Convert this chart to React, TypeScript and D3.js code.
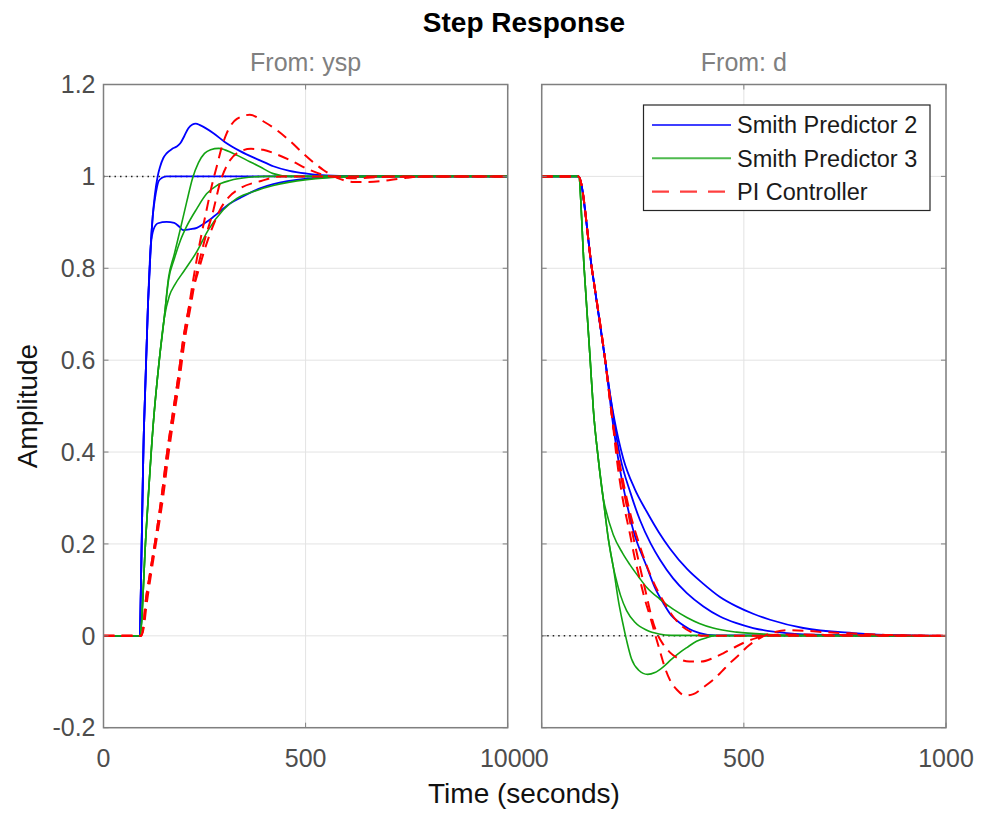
import React from "react";
import * as d3 from "d3";

type Pt = [number, number];

// ---- axes / labels ----
const xTicks = [0, 500, 1000];
const yTicks = [-0.2, 0, 0.2, 0.4, 0.6, 0.8, 1, 1.2];
const yTickLabels = ["-0.2", "0", "0.2", "0.4", "0.6", "0.8", "1", "1.2"];
const panelTitles = ["From: ysp", "From: d"];
const seriesNames = ["Smith Predictor 2", "Smith Predictor 3", "PI Controller"];

// ---- From: ysp (left panel) ----
const sp2YspA: Pt[] = [[0,0],[88,0],[100,0.45],[110,0.72],[117,0.85],[122,0.915],[127,0.96],[134,1.0],[140,1.021],[148,1.04],[156,1.05],[170,1.06],[181,1.065],[190,1.072],[200,1.088],[210,1.105],[220,1.113],[228,1.115],[240,1.111],[272,1.094],[300,1.075],[338,1.055],[387,1.035],[420,1.022],[460,1.012],[503,1.006],[550,1.002],[650,1.0],[1000,1.0]];
const sp2YspB: Pt[] = [[0,0],[88,0],[100,0.45],[110,0.72],[117,0.85],[122,0.915],[127,0.95],[132,0.975],[136,0.989],[145,0.997],[156,1.0],[1000,1.0]];
const sp2YspC: Pt[] = [[0,0],[88,0],[100,0.45],[110,0.72],[117,0.85],[124,0.885],[135,0.898],[156,0.901],[175,0.899],[188,0.89],[197,0.883],[215,0.885],[231,0.888],[250,0.898],[272,0.912],[313,0.941],[338,0.953],[387,0.974],[420,0.983],[503,0.995],[585,0.999],[700,1.0],[1000,1.0]];

const sp3YspA: Pt[] = [[0,0],[90,0],[105,0.22],[123,0.46],[138,0.6],[150,0.69],[161,0.78],[175,0.83],[190,0.885],[206,0.945],[220,0.995],[235,1.03],[250,1.05],[265,1.058],[285,1.061],[321,1.05],[362,1.032],[387,1.021],[420,1.006],[460,1.0],[1000,1.0]];
const sp3YspB: Pt[] = [[0,0],[90,0],[105,0.22],[123,0.46],[138,0.6],[150,0.69],[161,0.775],[175,0.82],[190,0.86],[205,0.89],[231,0.93],[255,0.962],[280,0.98],[313,0.991],[360,0.998],[400,1.0],[1000,1.0]];
const sp3YspC: Pt[] = [[0,0],[90,0],[105,0.22],[123,0.46],[138,0.6],[150,0.69],[163,0.74],[177,0.765],[200,0.795],[230,0.835],[259,0.883],[296,0.927],[330,0.952],[381,0.97],[420,0.98],[503,0.993],[600,0.999],[700,1.0],[1000,1.0]];

const piYspA: Pt[] = [[0,0],[93,0],[98.5,0.02],[103,0.064],[115,0.136],[132,0.23],[144,0.305],[156,0.39],[169,0.47],[185,0.564],[197,0.644],[210,0.709],[222,0.775],[235,0.84],[255,0.927],[268,0.98],[280,1.021],[293,1.065],[305,1.094],[330,1.125],[362,1.134],[395,1.12],[428,1.101],[460,1.078],[494,1.05],[520,1.03],[544,1.014],[570,1.0],[593,0.992],[620,0.988],[651,0.988],[709,0.992],[750,0.997],[790,1.0],[1000,1.0]];
const piYspB: Pt[] = [[0,0],[93,0],[100,0.02],[106,0.064],[118,0.136],[135,0.23],[148,0.305],[160,0.39],[173,0.47],[189,0.564],[201,0.644],[214,0.709],[227,0.775],[246,0.847],[272,0.927],[288,0.985],[313,1.035],[340,1.055],[365,1.06],[395,1.058],[428,1.048],[460,1.036],[510,1.014],[560,1.0],[620,0.996],[700,0.999],[1000,1.0]];
const piYspC: Pt[] = [[0,0],[93,0],[98.5,0.02],[103,0.064],[115,0.136],[132,0.23],[144,0.305],[156,0.39],[169,0.47],[185,0.564],[197,0.644],[210,0.709],[222,0.755],[235,0.795],[250,0.84],[270,0.89],[290,0.93],[310,0.955],[340,0.975],[390,0.99],[440,1.0],[1000,1.0]];

// ---- From: d (right panel) ----
const sp2DA: Pt[] = [[0,1],[91,1],[124,0.8],[157,0.6],[170,0.52],[180,0.47],[202,0.385],[230,0.32],[260,0.27],[290,0.225],[317,0.19],[360,0.145],[400,0.113],[440,0.085],[482,0.064],[523,0.048],[565,0.035],[647,0.017],[771,0.006],[900,0.001],[1000,0]];
const sp2DB: Pt[] = [[0,1],[91,1],[124,0.8],[157,0.6],[170,0.52],[180,0.46],[194,0.39],[220,0.31],[243,0.252],[270,0.2],[293,0.165],[325,0.125],[359,0.093],[400,0.064],[441,0.042],[480,0.028],[523,0.017],[606,0.006],[700,0.002],[1000,0]];
const sp2DC: Pt[] = [[0,1],[91,1],[124,0.8],[157,0.6],[175,0.47],[194,0.36],[210,0.29],[227,0.228],[260,0.15],[280,0.105],[301,0.071],[320,0.045],[342,0.028],[365,0.015],[391,0.006],[430,0.001],[1000,0]];

const sp3DA: Pt[] = [[0,1],[91,1],[105,0.8],[120,0.6],[128,0.49],[140,0.385],[152,0.3],[165,0.21],[177,0.15],[190,0.075],[200,0.03],[210,-0.01],[222,-0.05],[240,-0.075],[262,-0.084],[280,-0.08],[300,-0.068],[320,-0.052],[342,-0.036],[360,-0.025],[383,-0.012],[408,-0.004],[430,0],[1000,0]];
const sp3DB: Pt[] = [[0,1],[91,1],[105,0.8],[120,0.6],[128,0.49],[140,0.385],[152,0.3],[165,0.21],[177,0.15],[185,0.12],[195,0.088],[210,0.055],[230,0.03],[260,0.012],[290,0.004],[320,0.001],[1000,0]];
const sp3DC: Pt[] = [[0,1],[91,1],[105,0.8],[120,0.6],[128,0.49],[140,0.385],[152,0.3],[157,0.28],[177,0.22],[200,0.18],[218,0.155],[240,0.128],[260,0.105],[292,0.08],[325,0.058],[359,0.04],[390,0.027],[424,0.017],[482,0.008],[565,0.003],[650,0.001],[1000,0]];

const piDA: Pt[] = [[0,1],[91,1],[124,0.8],[157,0.6],[175,0.47],[185,0.39],[200,0.3],[218,0.223],[230,0.17],[243,0.122],[255,0.08],[268,0.042],[280,0.005],[293,-0.035],[305,-0.07],[317,-0.096],[335,-0.118],[355,-0.13],[375,-0.127],[400,-0.112],[424,-0.096],[445,-0.078],[466,-0.059],[490,-0.04],[507,-0.025],[530,-0.01],[556,0.002],[580,0.009],[606,0.012],[650,0.011],[700,0.008],[771,0.005],[850,0.002],[1000,0]];
const piDB: Pt[] = [[0,1],[91,1],[124,0.8],[157,0.6],[175,0.47],[194,0.36],[218,0.25],[243,0.15],[260,0.085],[272,0.04],[284,0.008],[300,-0.018],[317,-0.036],[340,-0.05],[365,-0.056],[395,-0.056],[425,-0.048],[449,-0.038],[475,-0.026],[500,-0.015],[530,-0.005],[556,0],[600,0.003],[700,0.002],[1000,0]];
const piDC: Pt[] = [[0,1],[91,1],[124,0.8],[157,0.6],[175,0.47],[194,0.37],[218,0.27],[243,0.195],[270,0.13],[301,0.075],[320,0.048],[342,0.025],[370,0.008],[400,0],[1000,0]];

const leftSeries = [
  { name: seriesNames[0], curves: [sp2YspA, sp2YspB, sp2YspC] },
  { name: seriesNames[1], curves: [sp3YspA, sp3YspB, sp3YspC] },
  { name: seriesNames[2], curves: [piYspA, piYspB, piYspC] },
];
const rightSeries = [
  { name: seriesNames[0], curves: [sp2DA, sp2DB, sp2DC] },
  { name: seriesNames[1], curves: [sp3DA, sp3DB, sp3DC] },
  { name: seriesNames[2], curves: [piDA, piDB, piDC] },
];
const steadyState = [1, 0];

const styles = [
  { color: "#0000ff", width: 1.8, dash: "" },
  { color: "#13a313", width: 1.6, dash: "" },
  { color: "#ff0000", width: 2, dash: "11,7" },
];

const FONT = "'Liberation Sans', Arial, Helvetica, sans-serif";
const W = 981, H = 813;
const TOP = 84.5, BOTTOM = 727.7;
const panels = [
  { x0: 103.5, x1: 507.7, series: leftSeries },
  { x0: 541.7, x1: 946, series: rightSeries },
];

export default function App() {
  React.useEffect(() => {
    document.body.style.margin = "0";
  }, []);
  const y = d3.scaleLinear().domain([-0.2, 1.2]).range([BOTTOM, TOP]);
  const axisCol = "#7f7f7f";
  const tickCol = "#4d4d4d";
  const gridCol = "#e3e3e3";

  return (
    <svg width={W} height={H} style={{ position: "absolute", left: 0, top: 0, background: "#fff" }} fontFamily={FONT}>
      <rect x={0} y={0} width={W} height={H} fill="#fff" />
      <text x={524} y={32} textAnchor="middle" fontSize={28} fontWeight="bold" fill="#000">Step Response</text>
      {panels.map((p, pi) => {
        const x = d3.scaleLinear().domain([0, 1000]).range([p.x0, p.x1]);
        const line = d3.line<Pt>().x((d) => x(d[0])).y((d) => y(d[1])).curve(d3.curveMonotoneX);
        const clipId = `clip${pi}`;
        return (
          <g key={pi}>
            <defs>
              <clipPath id={clipId}>
                <rect x={p.x0} y={TOP} width={p.x1 - p.x0} height={BOTTOM - TOP} />
              </clipPath>
            </defs>
            <rect x={p.x0} y={TOP} width={p.x1 - p.x0} height={BOTTOM - TOP} fill="#fff" />
            {yTicks.map((t) => (
              <line key={"gy" + t} x1={p.x0} x2={p.x1} y1={y(t)} y2={y(t)} stroke={gridCol} strokeWidth={1} />
            ))}
            {xTicks.map((t) => (
              <line key={"gx" + t} x1={x(t)} x2={x(t)} y1={TOP} y2={BOTTOM} stroke={gridCol} strokeWidth={1} />
            ))}
            <text x={(p.x0 + p.x1) / 2} y={71} textAnchor="middle" fontSize={25} fill="#808080">{panelTitles[pi]}</text>
            <g clipPath={`url(#${clipId})`}>
              <line x1={p.x0} x2={p.x1} y1={y(steadyState[pi])} y2={y(steadyState[pi])} stroke="#222" strokeWidth={1.5} strokeDasharray="1.5,4" />
              {p.series.map((s, si) =>
                s.curves.map((c, ci) => (
                  <path key={si + "-" + ci} d={line(c) || ""} fill="none" stroke={styles[si].color} strokeWidth={styles[si].width} strokeDasharray={styles[si].dash || undefined} strokeLinejoin="round" />
                ))
              )}
            </g>
            {yTicks.map((t) => (
              <g key={"ty" + t}>
                <line x1={p.x0} x2={p.x0 + 5} y1={y(t)} y2={y(t)} stroke={axisCol} strokeWidth={1} />
                <line x1={p.x1} x2={p.x1 - 5} y1={y(t)} y2={y(t)} stroke={axisCol} strokeWidth={1} />
              </g>
            ))}
            {xTicks.map((t) => (
              <g key={"tx" + t}>
                <line x1={x(t)} x2={x(t)} y1={BOTTOM} y2={BOTTOM - 5} stroke={axisCol} strokeWidth={1} />
                <line x1={x(t)} x2={x(t)} y1={TOP} y2={TOP + 5} stroke={axisCol} strokeWidth={1} />
                <text x={x(t)} y={767} textAnchor="middle" fontSize={25} fill={tickCol}>{t}</text>
              </g>
            ))}
            <rect x={p.x0} y={TOP} width={p.x1 - p.x0} height={BOTTOM - TOP} fill="none" stroke={axisCol} strokeWidth={1.5} />
            {pi === 0 &&
              yTicks.map((t, i) => (
                <text key={"yl" + t} x={p.x0 - 8} y={y(t)} dy="0.35em" textAnchor="end" fontSize={25} fill={tickCol}>{yTickLabels[i]}</text>
              ))}
          </g>
        );
      })}
      <text transform={`translate(37,${(TOP + BOTTOM) / 2}) rotate(-90)`} textAnchor="middle" fontSize={28} fill="#111">Amplitude</text>
      <text x={524} y={803} textAnchor="middle" fontSize={28} fill="#111">Time (seconds)</text>
      <g>
        <rect x={643.5} y={105} width={286.5} height={105.5} fill="#fff" stroke="#262626" strokeWidth={1.2} />
        {seriesNames.map((n, i) => {
          const ly = 125 + i * 33.3;
          return (
            <g key={n}>
              <line x1={652} x2={731} y1={ly} y2={ly} stroke={styles[i].color} strokeWidth={styles[i].width + 0.4} strokeDasharray={styles[i].dash ? "17,11" : undefined} opacity={0.75} />
              <text x={737} y={ly} dy="0.36em" fontSize={23.5} fill="#1a1a1a">{n}</text>
            </g>
          );
        })}
      </g>
    </svg>
  );
}
